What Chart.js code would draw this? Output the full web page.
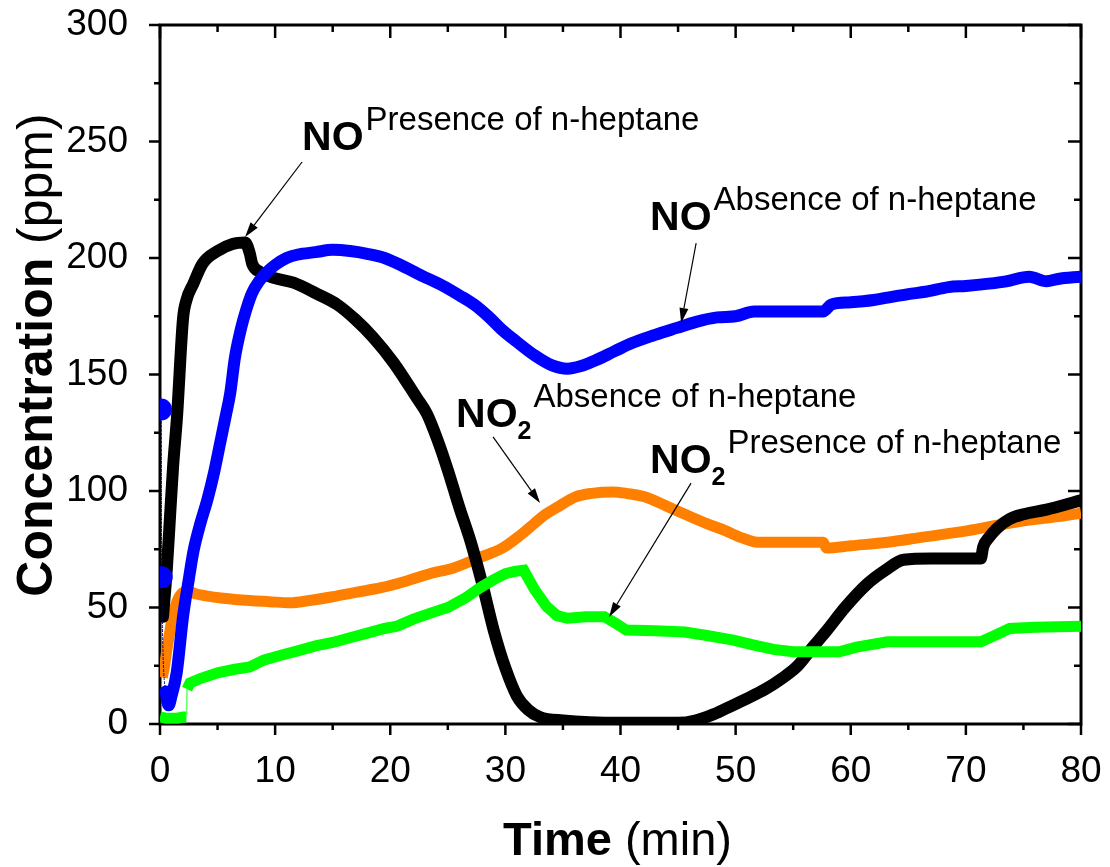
<!DOCTYPE html>
<html>
<head>
<meta charset="utf-8">
<title>NO / NO2 concentration vs time</title>
<script src="https://cdn.jsdelivr.net/npm/chart.js@4.4.1/dist/chart.umd.min.js"></script>
<style>
  html, body { margin: 0; padding: 0; background: #ffffff; }
  canvas { display: block; }
</style>
</head>
<body>
<canvas id="chart" width="1110" height="867"></canvas>
<script>
const FONT = '"Liberation Sans", Arial, Helvetica, sans-serif';

// NO, presence of n-heptane (black)
const noPresTime = [0.26,0.6,0.87,1.13,1.48,2.0,2.3,2.9,3.7,5.0,6.3,7.4,7.8,8.0,8.7,9.8,11.6,13.6,15.4,17.0,18.5,20.3,22.3,23.2,24.1,25.0,26.0,27.0,28.0,29.0,30.0,31.0,32.0,33.0,35.0,40.0,45.0,46.5,48.0,49.1,50.8,52.6,54.0,55.4,56.7,57.9,59.5,61.4,63.0,64.6,67.0,71.3,71.5,72.0,72.7,73.8,75.0,77.0,80.0];
const noPresConc = [46,67,89,110,132,174,182,189,197.6,203,206,206.6,202,197.6,194,191.6,189.4,184.7,180,173.5,166,155,140,133,122,109,93,78,60,40,24,12,6,3,1.5,0.5,0.5,1.5,4,6.5,10.5,15,19.5,25,33,40,50,60,66,70.5,71,71,76,80,84,88,90,92,96];

// NO, absence of n-heptane (blue)
const noAbsTime = [0.1,0.15,0.5,0.75,1.0,1.45,2.0,2.5,2.9,3.5,4.1,4.7,5.2,5.7,6.1,6.5,7.0,7.5,8.0,8.6,9.3,10.0,11.0,12.0,13.5,15.0,16.5,18.0,19.5,20.9,22.5,24.6,26.0,27.3,28.5,29.75,31.0,32.6,34.0,35.4,36.5,37.8,39.5,41.0,43.0,44.9,46.5,48.4,50.0,51.6,55.0,57.6,58.3,60.0,62.0,63.2,65.0,66.5,68.5,70.0,72.0,73.5,75.5,77.0,78.0,80.0];
const noAbsConc = [135,63,14,8,12,22,46,62,74,86,96,108,120,132,142,157,169,178,185,190,194,197,200,201.5,202.5,203.5,203,201.8,200,197,193,188,184,180,175,169,164,158,154,152.5,153.5,156,160,163.5,167,170,172.5,174.5,175,177,177,177,180,181,182,183,184.5,185.5,187.5,188,189,190,192,190,191,192];

// NO2, absence of n-heptane (orange)
const no2AbsTime = [0.2,0.4,0.6,0.8,1.0,1.3,1.6,2.0,2.5,3.0,4.0,5.5,7.8,9.5,11.3,13.0,15.0,17.0,19.2,21.5,23.5,25.5,27.8,29.75,31.3,32.5,33.5,34.5,36.1,37.5,39.3,40.5,42.1,44.0,45.6,47.5,49.1,50.5,51.9,55.0,57.6,57.9,60.0,63.2,66.0,70.2,73.0,75.5,78.0,80.0];
const no2AbsConc = [20,25,32,38,44,50,54,56.5,57,56,55,54,53,52.5,52,53,54.6,56.5,58.5,61.5,64.6,67,71.5,75.5,81,86,90,93,97.5,99,99.6,99,97.5,93.5,90,86,83,80,78,78,78,75.5,76.5,78,80,83,85.5,87.5,89,90.5];

// NO2, presence of n-heptane (green)
const no2PresTime = [0,0.5,1.0,1.5,2.0,2.3,2.35,2.6,3.5,5.0,6.5,7.8,9.0,10.5,12.2,13.5,15.0,16.5,18.0,19.5,20.6,22.0,23.5,25.0,26.5,27.8,29.0,30.0,30.8,31.6,32.5,33.6,34.5,35.4,37.0,38.6,39.5,40.5,43.0,45.6,47.5,49.8,51.5,53.3,55.0,59.0,60.5,63.2,67.0,71.3,72.5,73.8,76.0,80.0];
const no2PresConc = [3,2.5,2.5,2.5,3,3,15,17.6,19.5,22,23.5,24.5,27.4,29.5,31.7,33.5,35,37,39,41,42,45,47.6,50,54,58.5,62,64.5,65.5,66,58,50.3,46.5,45.4,46,46,43.5,40.3,40,39.5,38,36,34,32,31,31,33,35.3,35.3,35.3,38,41,41.5,42];

// Axis tick values
const xMajorTicks = [0,10,20,30,40,50,60,70,80];
const xMinorTicks = [5,15,25,35,45,55,65,75];
const yMajorTicks = [0,50,100,150,200,250,300];
const yMinorTicks = [25,75,125,175,225,275];

const pairs = (xs, ys) => xs.map((x, i) => ({ x: x, y: ys[i] }));

// Callout labels, anchored in data units (time, ppm)
const callouts = [
  { sub: '',  sup: 'Presence of n-heptane', at: [12.34, 246.4], from: [12.34, 241.2], to: [7.39, 209.0] },
  { sub: '',  sup: 'Absence of n-heptane',  at: [42.57, 212.0], from: [46.57, 206.4], to: [45.27, 172.1] },
  { sub: '2', sup: 'Absence of n-heptane',  at: [25.72, 127.5], from: [28.93, 123.2], to: [33.01, 94.8] },
  { sub: '2', sup: 'Presence of n-heptane', at: [42.57, 107.7], from: [46.13, 103.4], to: [39.01, 45.9] }
];

// Closed frame with outward ticks on bottom/left, inward ticks on top/right
const framePlugin = {
  id: 'frame',
  beforeDatasetsDraw(chart) {
    const { ctx, chartArea: a, scales: { x, y } } = chart;
    ctx.save();
    ctx.strokeStyle = '#000';
    ctx.lineCap = 'butt';
    ctx.lineWidth = 2.5;
    const seg = (x1, y1, x2, y2) => { ctx.beginPath(); ctx.moveTo(x1, y1); ctx.lineTo(x2, y2); ctx.stroke(); };
    xMajorTicks.forEach(v => { const p = x.getPixelForValue(v); seg(p, a.bottom, p, a.bottom + 11); seg(p, a.top, p, a.top + 13); });
    xMinorTicks.forEach(v => { const p = x.getPixelForValue(v); seg(p, a.bottom, p, a.bottom + 6); seg(p, a.top, p, a.top + 7); });
    yMajorTicks.forEach(v => { const p = y.getPixelForValue(v); seg(a.left, p, a.left - 11, p); seg(a.right, p, a.right - 13, p); });
    yMinorTicks.forEach(v => { const p = y.getPixelForValue(v); seg(a.left, p, a.left - 6, p); seg(a.right, p, a.right - 7, p); });
    ctx.lineWidth = 3;
    ctx.strokeRect(a.left, a.top, a.right - a.left, a.bottom - a.top);
    ctx.restore();
  }
};

function drawArrow(ctx, x1, y1, x2, y2) {
  const ang = Math.atan2(y2 - y1, x2 - x1);
  const len = 15, half = 4.5;
  const bx = x2 - len * Math.cos(ang), by = y2 - len * Math.sin(ang);
  ctx.lineWidth = 1.2;
  ctx.beginPath(); ctx.moveTo(x1, y1); ctx.lineTo(bx, by); ctx.stroke();
  ctx.beginPath();
  ctx.moveTo(x2, y2);
  ctx.lineTo(bx + half * Math.sin(ang), by - half * Math.cos(ang));
  ctx.lineTo(bx - half * Math.sin(ang), by + half * Math.cos(ang));
  ctx.closePath(); ctx.fill();
}

const textPlugin = {
  id: 'texts',
  afterDraw(chart) {
    const { ctx, chartArea: a, scales: { x, y } } = chart;
    ctx.save();
    ctx.fillStyle = '#000';
    ctx.strokeStyle = '#000';
    ctx.textBaseline = 'alphabetic';
    ctx.textAlign = 'left';

    callouts.forEach(c => {
      const px = x.getPixelForValue(c.at[0]), py = y.getPixelForValue(c.at[1]);
      ctx.font = 'bold 41px ' + FONT;
      ctx.fillText('NO', px, py);
      let cx = px + ctx.measureText('NO').width;
      if (c.sub) {
        ctx.font = 'bold 25px ' + FONT;
        ctx.fillText(c.sub, cx, py + 12);
        cx += ctx.measureText(c.sub).width;
      }
      ctx.font = '33px ' + FONT;
      ctx.fillText(c.sup, cx + 2, py - 20);
      drawArrow(ctx, x.getPixelForValue(c.from[0]), y.getPixelForValue(c.from[1]),
                     x.getPixelForValue(c.to[0]), y.getPixelForValue(c.to[1]));
    });

    // x-axis title
    const cxm = (a.left + a.right) / 2 - 3;
    ctx.font = 'bold 47px ' + FONT;
    const w1 = ctx.measureText('Time').width;
    ctx.font = '47px ' + FONT;
    const w2 = ctx.measureText(' (min)').width;
    let sx = cxm - (w1 + w2) / 2;
    ctx.font = 'bold 47px ' + FONT;
    ctx.fillText('Time', sx, 855);
    ctx.font = '47px ' + FONT;
    ctx.fillText(' (min)', sx + w1, 855);

    // y-axis title
    ctx.translate(52, 355);
    ctx.rotate(-Math.PI / 2);
    ctx.font = 'bold 50px ' + FONT;
    const v1 = ctx.measureText('Concentration').width;
    ctx.font = '50px ' + FONT;
    const v2 = ctx.measureText(' (ppm)').width;
    sx = -(v1 + v2) / 2;
    ctx.font = 'bold 50px ' + FONT;
    ctx.fillText('Concentration', sx, 0);
    ctx.font = '50px ' + FONT;
    ctx.fillText(' (ppm)', sx + v1, 0);
    ctx.restore();
  }
};

const lineBase = {
  showLine: true,
  pointRadius: 0,
  pointHoverRadius: 0,
  borderCapStyle: 'round',
  borderJoinStyle: 'round',
  cubicInterpolationMode: 'monotone'
};

new Chart(document.getElementById('chart'), {
  type: 'line',
  data: {
    datasets: [
      Object.assign({}, lineBase, {
        label: 'NO (absence of n-heptane)',
        data: pairs(noAbsTime, noAbsConc),
        borderColor: '#0000ff',
        backgroundColor: '#0000ff',
        borderWidth: 12,
        order: 1,
        pointRadius: ctx => (ctx.dataIndex < 2 ? 5 : 0),
        segment: {
          borderWidth: s => (s.p0DataIndex < 2 ? 1 : 12),
          borderDash: s => (s.p0DataIndex < 2 ? [2, 2] : undefined),
          borderColor: s => (s.p0DataIndex < 2 ? '#000080' : undefined)
        }
      }),
      Object.assign({}, lineBase, {
        label: 'NO2 (presence of n-heptane)',
        data: pairs(no2PresTime, no2PresConc),
        borderColor: '#00ff00',
        backgroundColor: '#00ff00',
        borderWidth: 11,
        borderCapStyle: 'butt',
        borderJoinStyle: 'miter',
        cubicInterpolationMode: 'default',
        tension: 0,
        order: 2,
        segment: {
          borderWidth: s => (s.p0DataIndex === 5 ? 1.5 : 11),
          borderColor: s => (s.p0DataIndex === 5 ? '#66ff66' : undefined)
        }
      }),
      Object.assign({}, lineBase, {
        label: 'NO (presence of n-heptane)',
        data: pairs(noPresTime, noPresConc),
        borderColor: '#000000',
        backgroundColor: '#000000',
        borderWidth: 12,
        order: 3
      }),
      Object.assign({}, lineBase, {
        label: 'NO2 (absence of n-heptane)',
        data: pairs(no2AbsTime, no2AbsConc),
        borderColor: '#ff8000',
        backgroundColor: '#ff8000',
        borderWidth: 11,
        borderCapStyle: 'butt',
        order: 4
      })
    ]
  },
  options: {
    responsive: false,
    animation: false,
    devicePixelRatio: 1,
    layout: { padding: { top: 25, right: 29, left: 0, bottom: 0 } },
    plugins: { legend: { display: false }, tooltip: { enabled: false } },
    events: [],
    scales: {
      x: {
        type: 'linear',
        min: 0, max: 80,
        afterBuildTicks: s => { s.ticks = xMajorTicks.map(v => ({ value: v })); },
        afterFit: s => { s.height = 143; s.paddingLeft = 0; s.paddingRight = 0; },
        grid: { display: false, drawTicks: false },
        border: { display: false },
        ticks: { color: '#000', font: { family: FONT, size: 37 }, padding: 26, maxRotation: 0, autoSkip: false }
      },
      y: {
        type: 'linear',
        min: 0, max: 300,
        afterBuildTicks: s => { s.ticks = yMajorTicks.map(v => ({ value: v })); },
        afterFit: s => { s.width = 160; s.paddingTop = 0; s.paddingBottom = 0; },
        grid: { display: false, drawTicks: false },
        border: { display: false },
        ticks: { color: '#000', font: { family: FONT, size: 37 }, padding: 32, autoSkip: false }
      }
    }
  },
  plugins: [framePlugin, textPlugin]
});
</script>
</body>
</html>
